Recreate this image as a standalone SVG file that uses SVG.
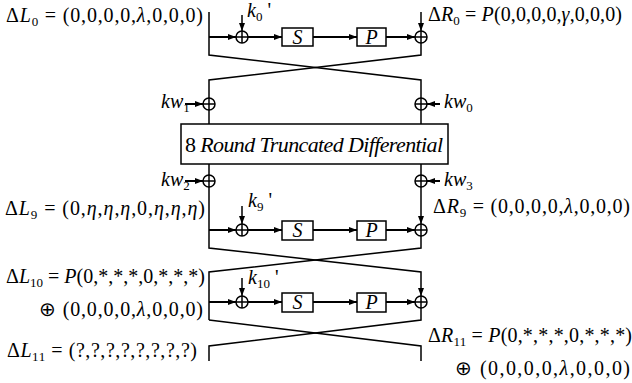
<svg xmlns="http://www.w3.org/2000/svg" width="632" height="383" viewBox="0 0 632 383" font-family="Liberation Serif, serif">
<style>
  .ln { stroke:#000; stroke-width:1.5; fill:none; }
  .th { stroke:#000; stroke-width:2; fill:none; }
  .box { stroke:#000; stroke-width:1.5; fill:#fff; }
  .xor { stroke:#000; stroke-width:1.5; fill:#fff; }
  text { font-size:20px; fill:#000; }
  .i { font-style:italic; }
  .sub { font-size:13px; }
</style>
<defs>
  <marker id="ah" markerUnits="userSpaceOnUse" markerWidth="8" markerHeight="6" refX="8" refY="3" orient="auto">
    <path d="M0,0 L8,3 L0,6 z" fill="#000"/>
  </marker>
</defs>
<rect width="632" height="383" fill="#fff"/>

<g id="connectors">
  <path class="ln" d="M209,12 V55 L421,80 V98"/>
  <path class="ln" d="M421,43 V55 L209,80 V98"/>
  <path class="th" d="M209,37 H236" marker-end="url(#ah)"/>
  <path class="ln" d="M242,15 V31" marker-end="url(#ah)"/>
  <path class="th" d="M248,37 H282" marker-end="url(#ah)"/>
  <path class="th" d="M313,37 H357" marker-end="url(#ah)"/>
  <path class="th" d="M386,37 H415" marker-end="url(#ah)"/>
  <path class="ln" d="M421,12 V31" marker-end="url(#ah)"/>
  <path class="th" d="M185,104 H203" marker-end="url(#ah)"/>
  <path class="th" d="M440,104 H427" marker-end="url(#ah)"/>
  <path class="ln" d="M209,110 V124 M421,110 V124 M209,164 V175 M421,164 V175"/>
  <path class="th" d="M185,181 H203" marker-end="url(#ah)"/>
  <path class="th" d="M440,181 H427" marker-end="url(#ah)"/>
  <path class="ln" d="M209,187 V248 L421,272 V296" marker-end="url(#ah)"/>
  <path class="ln" d="M421,187 V224" marker-end="url(#ah)"/>
  <path class="ln" d="M421,236 V248 L209,272 V320"/>
  <path class="th" d="M209,230 H236" marker-end="url(#ah)"/>
  <path class="ln" d="M242,206 V224" marker-end="url(#ah)"/>
  <path class="th" d="M248,230 H282" marker-end="url(#ah)"/>
  <path class="th" d="M313,230 H357" marker-end="url(#ah)"/>
  <path class="th" d="M386,230 H415" marker-end="url(#ah)"/>
  <path class="th" d="M209,302 H236" marker-end="url(#ah)"/>
  <path class="ln" d="M242,278 V296" marker-end="url(#ah)"/>
  <path class="th" d="M248,302 H282" marker-end="url(#ah)"/>
  <path class="th" d="M313,302 H357" marker-end="url(#ah)"/>
  <path class="th" d="M386,302 H415" marker-end="url(#ah)"/>
  <path class="ln" d="M209,320 L421,346 V361"/>
  <path class="ln" d="M421,308 V320 L209,346 V361"/>
</g>

<g id="xor-k0"><circle class="xor" cx="242" cy="37" r="6"/><path class="ln" d="M236,37 H248 M242,31 V43"/></g>
<g id="xor-r0"><circle class="xor" cx="421" cy="37" r="6"/><path class="ln" d="M415,37 H427 M421,31 V43"/></g>
<g id="s1"><rect class="box" x="282" y="28" width="31" height="18"/><text class="i" x="297.5" y="44" text-anchor="middle">S</text></g>
<g id="p1"><rect class="box" x="357" y="28" width="29" height="18"/><text class="i" x="371.5" y="44" text-anchor="middle">P</text></g>

<g id="xor-kw1"><circle class="xor" cx="209" cy="104" r="6"/><path class="ln" d="M203,104 H215 M209,98 V110"/></g>
<g id="xor-kw0"><circle class="xor" cx="421" cy="104" r="6"/><path class="ln" d="M415,104 H427 M421,98 V110"/></g>
<g id="trunc"><rect class="box" x="181" y="124" width="267" height="40"/>
  <text x="185" y="152" textLength="258" lengthAdjust="spacing" style="font-size:22px">8 <tspan class="i">Round Truncated  Differential</tspan></text></g>
<g id="xor-kw2"><circle class="xor" cx="209" cy="181" r="6"/><path class="ln" d="M203,181 H215 M209,175 V187"/></g>
<g id="xor-kw3"><circle class="xor" cx="421" cy="181" r="6"/><path class="ln" d="M415,181 H427 M421,175 V187"/></g>

<g id="xor-k9"><circle class="xor" cx="242" cy="230" r="6"/><path class="ln" d="M236,230 H248 M242,224 V236"/></g>
<g id="xor-r9"><circle class="xor" cx="421" cy="230" r="6"/><path class="ln" d="M415,230 H427 M421,224 V236"/></g>
<g id="s9"><rect class="box" x="282" y="221" width="31" height="19"/><text class="i" x="297.5" y="237" text-anchor="middle">S</text></g>
<g id="p9"><rect class="box" x="357" y="221" width="29" height="19"/><text class="i" x="371.5" y="237" text-anchor="middle">P</text></g>

<g id="xor-k10"><circle class="xor" cx="242" cy="302" r="6"/><path class="ln" d="M236,302 H248 M242,296 V308"/></g>
<g id="xor-r10"><circle class="xor" cx="421" cy="302" r="6"/><path class="ln" d="M415,302 H427 M421,296 V308"/></g>
<g id="s10"><rect class="box" x="282" y="293" width="31" height="19"/><text class="i" x="297.5" y="309" text-anchor="middle">S</text></g>
<g id="p10"><rect class="box" x="357" y="293" width="29" height="19"/><text class="i" x="371.5" y="309" text-anchor="middle">P</text></g>

<g id="labels">
  <text x="6" y="22" textLength="197" lengthAdjust="spacing">Δ<tspan class="i">L</tspan><tspan class="sub" dy="4">0</tspan><tspan dy="-4"> = (0,0,0,0,</tspan><tspan class="i">λ</tspan>,0,0,0)</text>
  <text x="428" y="21" textLength="194" lengthAdjust="spacing">Δ<tspan class="i">R</tspan><tspan class="sub" dy="4">0</tspan><tspan dy="-4"> = </tspan><tspan class="i">P</tspan>(0,0,0,0,<tspan class="i">γ</tspan>,0,0,0)</text>
  <text x="247" y="17"><tspan class="i">k</tspan><tspan class="sub" dy="4">0</tspan><tspan dy="-4"> '</tspan></text>
  <text x="161" y="108"><tspan class="i">kw</tspan><tspan class="sub" dy="4">1</tspan></text>
  <text x="444" y="108"><tspan class="i">kw</tspan><tspan class="sub" dy="4">0</tspan></text>
  <text x="161" y="186"><tspan class="i">kw</tspan><tspan class="sub" dy="4">2</tspan></text>
  <text x="444" y="186"><tspan class="i">kw</tspan><tspan class="sub" dy="4">3</tspan></text>
  <text x="5" y="215" textLength="200" lengthAdjust="spacing">Δ<tspan class="i">L</tspan><tspan class="sub" dy="4">9</tspan><tspan dy="-4"> = (0,</tspan><tspan class="i">η</tspan>,<tspan class="i">η</tspan>,<tspan class="i">η</tspan>,0,<tspan class="i">η</tspan>,<tspan class="i">η</tspan>,<tspan class="i">η</tspan>)</text>
  <text x="248" y="207"><tspan class="i">k</tspan><tspan class="sub" dy="4">9</tspan><tspan dy="-4"> '</tspan></text>
  <text x="433" y="213" textLength="197" lengthAdjust="spacing">Δ<tspan class="i">R</tspan><tspan class="sub" dy="4">9</tspan><tspan dy="-4"> = (0,0,0,0,</tspan><tspan class="i">λ</tspan>,0,0,0)</text>
  <text x="6" y="283" textLength="199" lengthAdjust="spacing">Δ<tspan class="i">L</tspan><tspan class="sub" dy="4">10</tspan><tspan dy="-4"> = </tspan><tspan class="i">P</tspan>(0,*,*,*,0,*,*,*)</text>
  <text x="248" y="284"><tspan class="i">k</tspan><tspan class="sub" dy="4">10</tspan><tspan dy="-4"> '</tspan></text>
  <text x="39" y="316" textLength="164" lengthAdjust="spacing">⊕ (0,0,0,0,<tspan class="i">λ</tspan>,0,0,0)</text>
  <text x="7" y="357" textLength="190" lengthAdjust="spacing">Δ<tspan class="i">L</tspan><tspan class="sub" dy="4">11</tspan><tspan dy="-4"> = (?,?,?,?,?,?,?,?)</tspan></text>
  <text x="428" y="342" textLength="204" lengthAdjust="spacing">Δ<tspan class="i">R</tspan><tspan class="sub" dy="4">11</tspan><tspan dy="-4"> = </tspan><tspan class="i">P</tspan>(0,*,*,*,0,*,*,*)</text>
  <text x="455" y="375" textLength="175" lengthAdjust="spacing">⊕ (0,0,0,0,<tspan class="i">λ</tspan>,0,0,0)</text>
</g>
</svg>
